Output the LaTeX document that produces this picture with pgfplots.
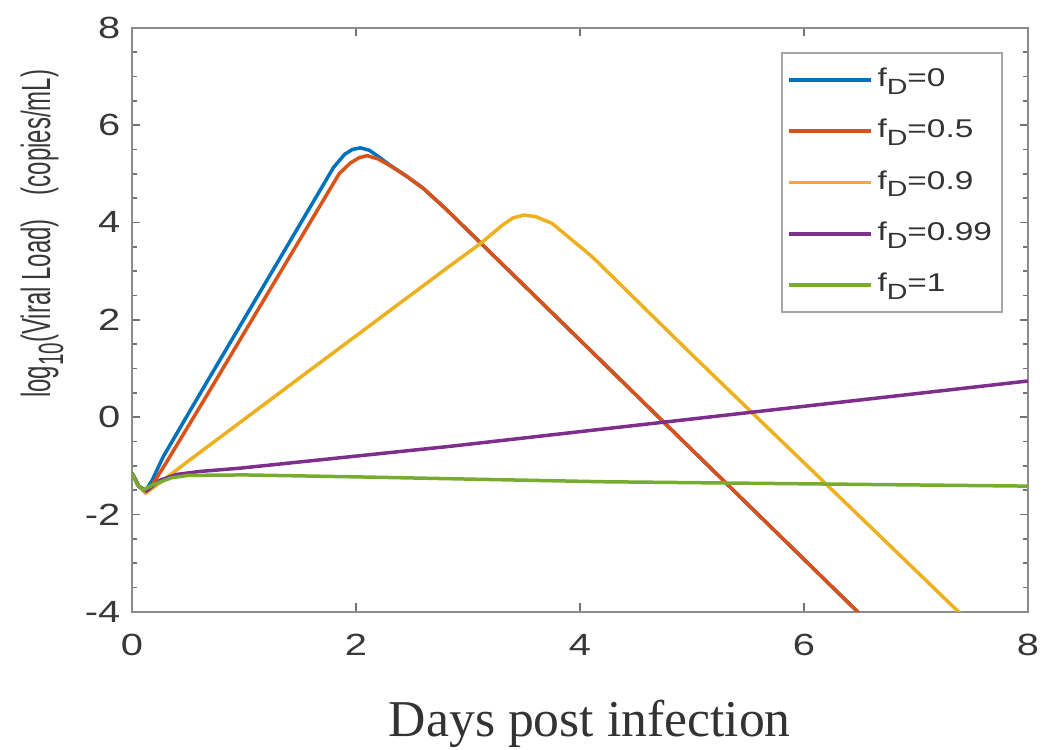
\documentclass[border=0pt]{standalone}
\usepackage{fontspec}
\setmainfont{Liberation Serif}
\setsansfont{Liberation Sans}
\newfontfamily\wsans{Liberation Sans}[FakeStretch=1.3]
\usepackage{graphicx}
\usepackage{pgfplots}
\pgfplotsset{compat=1.18}
\usetikzlibrary{calc}

% MATLAB default line colours
\definecolor{mblue}{RGB}{0,114,189}
\definecolor{mred}{RGB}{217,83,25}
\definecolor{myellow}{RGB}{237,177,32}
\definecolor{mpurple}{RGB}{126,47,142}
\definecolor{mgreen}{RGB}{119,172,48}

\pgfplotsset{legend image code/.code={\draw[#1] (0pt,0pt) -- (24.6pt,0pt);}}
\newcommand{\fD}{f\raisebox{-0.55ex}{\fontsize{6.6}{7}\selectfont D}}

\begin{document}
\begin{tikzpicture}
\begin{axis}[
  scale only axis, width=268.8pt, height=175.2pt,
  xmin=0, xmax=8, ymin=-4, ymax=8,
  xtick={0,2,4,6,8}, xticklabels={0,2,4,6,8},
  ytick={-4,-2,0,2,4,6,8}, yticklabels={-4,-2,0,2,4,6,8},
  minor y tick num=3,
  tick align=inside, major tick length=2.5pt, minor tick length=1.5pt,
  axis line style={black!45, line width=0.6pt},
  every tick/.style={black!55, line width=0.5pt},
  ticklabel style={font=\wsans\fontsize{9.2}{10}\selectfont, text=black!78},
  xticklabel style={yshift=-3.3pt},
  xlabel={Days post infection},
  xlabel style={font=\rmfamily\fontsize{15.5}{17}\selectfont, text=black!80,
    at={(axis description cs:0.511,-0.213)}, anchor=base},
  ylabel={\scalebox{1}[1.7]{log\raisebox{-0.6ex}{\fontsize{6.2}{7}\selectfont 10}(Viral Load)\quad(copies/mL)}},
  ylabel style={font=\sffamily\fontsize{7.2}{8}\selectfont, text=black!78,
    at={(axis description cs:-0.1004,0.647)}, anchor=center},
  legend cell align=left,
  legend style={at={(axis description cs:0.972,0.958)}, anchor=north east,
    draw=black!35, line width=0.6pt, fill=white,
    font=\wsans\fontsize{7.7}{8}\selectfont, text=black!80,
    inner xsep=1.5pt, inner ysep=0.3pt,
    nodes={inner xsep=1.5pt, inner ysep=0pt, minimum height=15.4pt}},
  every axis plot/.append style={line width=1.05pt},
]
\coordinate (ll) at (rel axis cs:0,0);
\coordinate (ur) at (rel axis cs:1,1);

\addplot[mblue] coordinates {
 (0,-1.15) (0.06,-1.42) (0.12,-1.52) (0.18,-1.3) (0.28,-0.81) (0.61,0.49)
 (1.8,5.13) (1.9,5.4) (1.97,5.5) (2.04,5.53) (2.12,5.48) (2.2,5.35) (2.3,5.18)
 (2.45,4.95) (2.6,4.7) (2.8,4.28) (4.0,1.58) (5.0,-0.675) (6.0,-2.925) (6.5,-4.05)};
\addlegendentry{\fD=0}

\addplot[mred] coordinates {
 (0,-1.15) (0.06,-1.42) (0.12,-1.55) (0.18,-1.4) (0.3,-0.96) (0.68,0.49)
 (1.85,5.0) (1.95,5.22) (2.03,5.33) (2.1,5.37) (2.2,5.3) (2.3,5.17)
 (2.45,4.95) (2.6,4.7) (2.8,4.28) (4.0,1.58) (5.0,-0.675) (6.0,-2.925) (6.5,-4.05)};
\addlegendentry{\fD=0.5}

\addplot[myellow] coordinates {
 (0,-1.15) (0.06,-1.42) (0.13,-1.55) (0.25,-1.35) (0.5,-0.91) (1.0,-0.05)
 (1.5,0.81) (2.2,2.01) (2.8,3.04) (3.12,3.58) (3.3,3.93) (3.4,4.09) (3.5,4.15)
 (3.6,4.12) (3.75,3.98) (4.11,3.29) (5.0,1.28) (6.0,-0.94) (7.0,-3.16) (7.45,-4.16)};
\addlegendentry{\fD=0.9}

\addplot[mpurple] coordinates {
 (0,-1.15) (0.06,-1.42) (0.13,-1.52) (0.25,-1.3) (0.4,-1.18) (0.6,-1.12)
 (0.97,-1.05) (2.85,-0.6) (8,0.74)};
\addlegendentry{\fD=0.99}

\addplot[mgreen] coordinates {
 (0,-1.15) (0.05,-1.4) (0.1,-1.5) (0.2,-1.38) (0.35,-1.25) (0.5,-1.2)
 (1.0,-1.19) (2,-1.23) (4.2,-1.33) (8,-1.42)};
\addlegendentry{\fD=1}
\end{axis}
\pgfresetboundingbox
\path ($(ll)+(-39.6pt,-41.2pt)$) rectangle ($(ur)+(4.2pt,8.3pt)$);
\end{tikzpicture}
\end{document}
